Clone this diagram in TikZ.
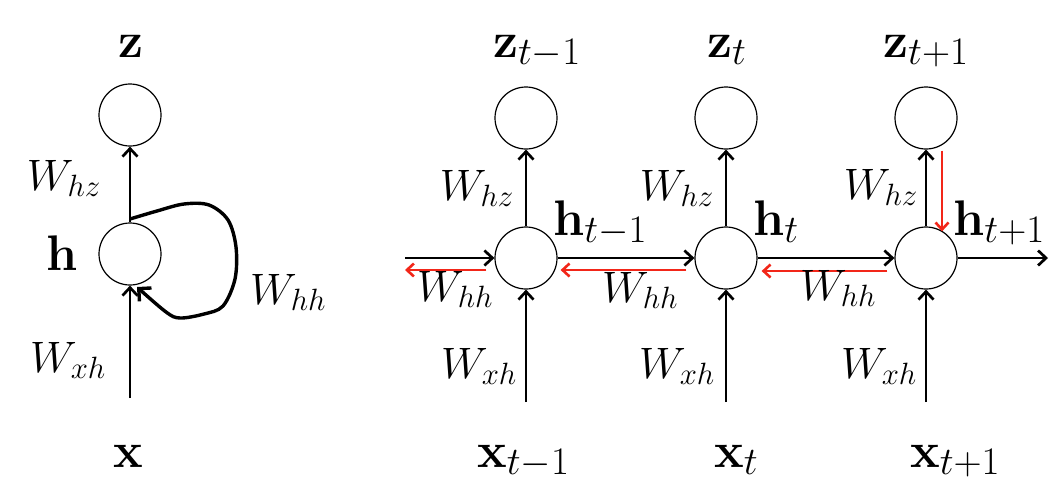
\RequirePackage{fix-cm}
\documentclass[tikz,border=0pt]{standalone}
\usetikzlibrary{arrows.meta}
\DeclareMathSizes{50}{50}{39}{29}
\definecolor{arrred}{RGB}{242,38,25}
\tikzset{
  unit/.style={circle,draw,line width=1.2pt,minimum size=62pt,inner sep=0pt},
  conn/.style={line width=2.7pt,-{Straight Barb[length=8pt,width=15pt,line width=2.7pt]}},
  backconn/.style={line width=2.6pt,color=arrred,-{Straight Barb[length=7pt,width=13pt,line width=2.6pt]}},
  loopconn/.style={line width=3.4pt,-{Straight Barb[length=9pt,width=18pt,line width=3.4pt]}},
  wlab/.style={inner sep=0pt,font=\fontsize{44}{50}\selectfont},
  vlab/.style={inner sep=0pt,font=\fontsize{50}{60}\selectfont},
}
\begin{document}
\begin{tikzpicture}[x=1pt,y=-1pt]
\useasboundingbox (0,0) rectangle (1059,501);
% ---------- left (folded) ----------
\node[unit] (z0) at (130,115) {};
\node[unit] (h0) at (130,254) {};
\coordinate (x0in) at (130,398);
\draw[conn] (x0in) -- (h0.south);
\draw[conn] (h0.north) -- (z0.south);
\coordinate (loopstart) at (130,219);
\draw[loopconn] plot[smooth,tension=0.55] coordinates {(loopstart) (157,211) (184,204) (209,205) (228,220) (236,247) (235,279) (223,306) (204,314) (180,318) (166,312) (137,287)};
\node[vlab,anchor=base west] (lz) at (118,57) {$\mathbf{z}$};
\node[vlab,anchor=base east] (lh) at (78,270) {$\mathbf{h}$};
\node[vlab,anchor=base west] (lx) at (113,467) {$\mathbf{x}$};
\node[wlab,anchor=base east] (lwhz) at (101,190) {$W_{hz}$};
\node[wlab,anchor=base east] (lwxh) at (106,372) {$W_{xh}$};
\node[wlab,anchor=base west] (lwhh) at (250,304) {$W_{hh}$};
% ---------- right (unfolded) ----------
\node[unit] (z1) at (526,118) {};
\node[unit] (z2) at (726,118) {};
\node[unit] (z3) at (926,118) {};
\node[unit] (h1) at (526,258) {};
\node[unit] (h2) at (726,258) {};
\node[unit] (h3) at (926,258) {};
\coordinate (x1in) at (526,402);
\coordinate (x2in) at (726,402);
\coordinate (x3in) at (926,402);
\coordinate (hin) at (405,258);
\coordinate (hout) at (1048,258);
\coordinate (hback) at (405,270);
\draw[conn] (x1in) -- (h1.south);
\draw[conn] (x2in) -- (h2.south);
\draw[conn] (x3in) -- (h3.south);
\draw[conn] (h1.north) -- (z1.south);
\draw[conn] (h2.north) -- (z2.south);
\draw[conn] (h3.north) -- (z3.south);
\draw[conn] (hin) -- (h1.west);
\draw[conn] (h1.east) -- (h2.west);
\draw[conn] (h2.east) -- (h3.west);
\draw[conn] (h3.east) -- (hout);
% red backward arrows
\draw[backconn] ([shift={(-8,12)}]h1.west) -- (hback);
\draw[backconn] ([shift={(-8,12)}]h2.west) -- ([shift={(3,12)}]h1.east);
\draw[backconn] ([shift={(-7,13)}]h3.west) -- ([shift={(4,13)}]h2.east);
\draw[backconn] ([shift={(16,1)}]z3.south) -- ([shift={(16,5)}]h3.north);
% labels
\node[vlab,anchor=base west] (lz1) at (493,57) {$\mathbf{z}_{t-1}$};
\node[vlab,anchor=base west] (lz2) at (707,57) {$\mathbf{z}_{t}$};
\node[vlab,anchor=base west] (lz3) at (883,57) {$\mathbf{z}_{t+1}$};
\node[vlab,anchor=base west] (lh1) at (553,235) {$\mathbf{h}_{t-1}$};
\node[vlab,anchor=base west] (lh2) at (753,235) {$\mathbf{h}_{t}$};
\node[vlab,anchor=base west] (lh3) at (953,235) {$\mathbf{h}_{t+1}$};
\node[vlab,anchor=base west] (lx1) at (477,467) {$\mathbf{x}_{t-1}$};
\node[vlab,anchor=base west] (lx2) at (714,467) {$\mathbf{x}_{t}$};
\node[vlab,anchor=base west] (lx3) at (910,467) {$\mathbf{x}_{t+1}$};
\node[wlab,anchor=base east] (whz1) at (514,200) {$W_{hz}$};
\node[wlab,anchor=base east] (whz2) at (714,200) {$W_{hz}$};
\node[wlab,anchor=base east] (whz3) at (918,199) {$W_{hz}$};
\node[wlab,anchor=base east] (wxh1) at (517,378) {$W_{xh}$};
\node[wlab,anchor=base east] (wxh2) at (715,378) {$W_{xh}$};
\node[wlab,anchor=base east] (wxh3) at (917,378) {$W_{xh}$};
\node[wlab,anchor=base west] (whh1) at (417,301) {$W_{hh}$};
\node[wlab,anchor=base west] (whh2) at (602,302) {$W_{hh}$};
\node[wlab,anchor=base west] (whh3) at (800,300) {$W_{hh}$};
\end{tikzpicture}
\end{document}
